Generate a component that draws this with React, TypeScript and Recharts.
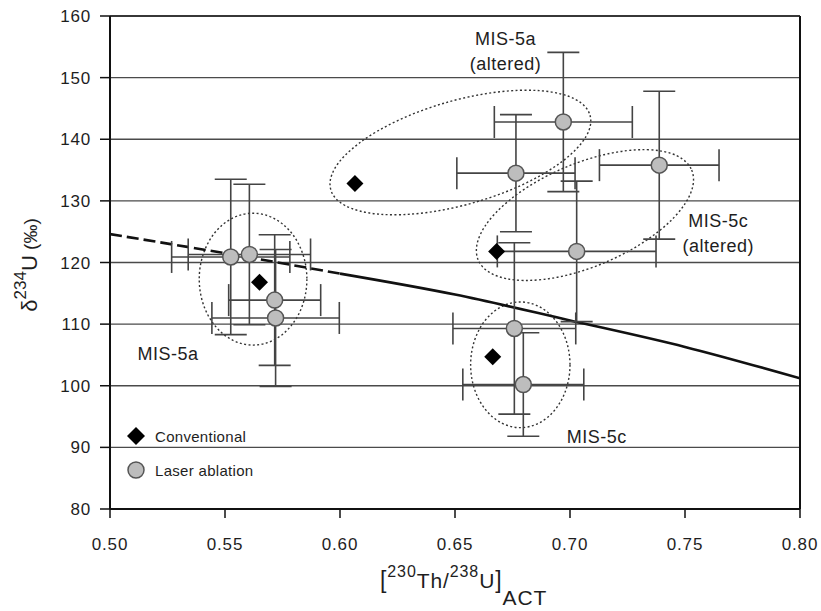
import React from "react";
import {
  ComposedChart,
  CartesianGrid,
  ErrorBar,
  Legend,
  Line,
  ReferenceArea,
  ReferenceDot,
  ReferenceLine,
  Scatter,
  XAxis,
  YAxis,
} from "recharts";

const FONT = '"Liberation Sans", Arial, Helvetica, sans-serif';
const INK = "#1e1e1e";

// axis ticks
const xTicks = [0.5, 0.55, 0.6, 0.65, 0.7, 0.75, 0.8];
const yTicks = [80, 90, 100, 110, 120, 130, 140, 150, 160];

// conventional (black diamonds)
const conventionalX = [0.565, 0.6065, 0.6681, 0.6664];
const conventionalY = [116.8, 132.8, 121.8, 104.7];

// laser ablation (grey circles) with 2-sigma errors
const laserX = [0.5525, 0.5606, 0.5716, 0.572, 0.6971, 0.6765, 0.7388, 0.7029, 0.6758, 0.6797];
const laserY = [120.9, 121.3, 113.9, 111.0, 142.8, 134.5, 135.8, 121.8, 109.3, 100.2];
const laserXErr = [0.0257, 0.0266, 0.02, 0.0277, 0.03, 0.0257, 0.026, 0.0345, 0.0267, 0.0263];
const laserYErr = [12.6, 11.4, 10.6, 11.1, 11.3, 9.5, 12.0, 11.4, 13.9, 8.4];

// closed-system evolution curve
const curveX = [0.5, 0.55, 0.6, 0.65, 0.7, 0.75, 0.8];
const curveY = [124.6, 121.5, 118.2, 114.8, 110.6, 106.3, 101.2];

const conventional = conventionalX.map((x, i) => ({ x, y: conventionalY[i] }));
const laser = laserX.map((x, i) => ({ x, y: laserY[i], ex: laserXErr[i], ey: laserYErr[i] }));
const curve = curveX.map((x, i) => ({ x, y: curveY[i] }));
const curveDashed = curve.filter((p) => p.x <= 0.6);
const curveSolid = curve.filter((p) => p.x >= 0.6);

// grouping ellipses: box in data units; tilted ones use the box diagonal as major axis
const groups = [
  { name: "MIS-5a", x1: 0.5388, x2: 0.5856, y1: 106.6, y2: 128.0, tilted: false, ratio: 1 },
  { name: "MIS-5c", x1: 0.6568, x2: 0.7, y1: 93.2, y2: 113.6, tilted: false, ratio: 1 },
  { name: "MIS-5a altered", x1: 0.596, x2: 0.7087, y1: 131.8, y2: 143.9, tilted: true, ratio: 0.385 },
  { name: "MIS-5c altered", x1: 0.6601, x2: 0.7529, y1: 120.4, y2: 135.0, tilted: true, ratio: 0.445 },
];

function ellipseShape(tilted: boolean, ratio: number) {
  return (props: any) => {
    const w = Math.abs(props.width);
    const h = Math.abs(props.height);
    const x = Math.min(props.x, props.x + props.width);
    const y = Math.min(props.y, props.y + props.height);
    const cx = x + w / 2;
    const cy = y + h / 2;
    const style = { fill: "none", stroke: "#333", strokeWidth: 1.4, strokeDasharray: "2 2.4" };
    if (!tilted) return <ellipse cx={cx} cy={cy} rx={w / 2} ry={h / 2} {...style} />;
    const a = Math.hypot(w, h) / 2;
    const angle = (-Math.atan2(h, w) * 180) / Math.PI;
    return (
      <ellipse
        cx={cx}
        cy={cy}
        rx={a}
        ry={a * ratio}
        transform={`rotate(${angle} ${cx} ${cy})`}
        {...style}
      />
    );
  };
}

const circleShape = (p: any) => (
  <circle cx={p.cx} cy={p.cy} r={8} fill="#bdbdbd" stroke="#555" strokeWidth={1.5} />
);

const diamondShape = (p: any) => {
  const d = 8.5;
  return (
    <polygon
      points={`${p.cx},${p.cy - d} ${p.cx + d},${p.cy} ${p.cx},${p.cy + d} ${p.cx - d},${p.cy}`}
      fill="#000"
    />
  );
};

function textShape(lines: string[]) {
  return (p: any) => (
    <text x={p.cx} y={p.cy} textAnchor="middle" fill={INK} fontSize={18} fontFamily={FONT} letterSpacing={0.5}>
      {lines.map((t, i) => (
        <tspan key={t} x={p.cx} dy={i === 0 ? 0 : 25}>
          {t}
        </tspan>
      ))}
    </text>
  );
}

function XLabel() {
  return (
    <text x={380} y={588} fill={INK} fontFamily={FONT} fontSize={21} letterSpacing={0.9}>
      <tspan fontSize={23}>[</tspan>
      <tspan dy={-11} fontSize={16}>230</tspan>
      <tspan dy={11}>Th/</tspan>
      <tspan dy={-11} fontSize={16}>238</tspan>
      <tspan dy={11}>U</tspan>
      <tspan fontSize={23}>]</tspan>
      <tspan dy={17}>ACT</tspan>
    </text>
  );
}

function YLabel() {
  return (
    <text
      x={37}
      y={265}
      transform="rotate(-90 37 265)"
      textAnchor="middle"
      fill={INK}
      fontFamily={FONT}
      fontSize={22}
    >
      <tspan>δ</tspan>
      <tspan dy={-11} fontSize={17}>234</tspan>
      <tspan dy={11}>U</tspan>
      <tspan fontSize={19}> (‰)</tspan>
    </text>
  );
}

function LegendBox() {
  const row = { display: "flex", alignItems: "center", height: 24, gap: 9 } as const;
  return (
    <div style={{ fontFamily: FONT, fontSize: 15, color: INK, letterSpacing: 0.3 }}>
      <div style={row}>
        <svg width={20} height={20}>
          <polygon points="10,1 19,10 10,19 1,10" fill="#000" />
        </svg>
        <span>Conventional</span>
      </div>
      <div style={{ ...row, marginTop: 10 }}>
        <svg width={20} height={20}>
          <circle cx={10} cy={10} r={8} fill="#bdbdbd" stroke="#555" strokeWidth={1.5} />
        </svg>
        <span>Laser ablation</span>
      </div>
    </div>
  );
}

export default function App() {
  return (
    <div style={{ position: "absolute", left: 0, top: 0, width: 821, height: 611, background: "#fff" }}>
      <ComposedChart width={821} height={611} margin={{ top: 16, right: 21, bottom: 0, left: 0 }}>
        <CartesianGrid vertical={false} stroke="#4a4a4a" strokeWidth={1.3} />
        <XAxis
          type="number"
          dataKey="x"
          domain={[0.5, 0.8]}
          ticks={xTicks}
          allowDataOverflow
          height={102}
          tickFormatter={(v) => Number(v).toFixed(2)}
          tick={{ fill: INK, fontSize: 17, fontFamily: FONT, letterSpacing: 0.8 }}
          tickSize={9}
          tickMargin={20}
          axisLine={{ stroke: "#111", strokeWidth: 2 }}
          tickLine={{ stroke: "#111", strokeWidth: 1.5 }}
          label={{ content: () => <XLabel /> }}
        />
        <YAxis
          type="number"
          dataKey="y"
          domain={[80, 160]}
          ticks={yTicks}
          allowDataOverflow
          width={110}
          tick={{ fill: INK, fontSize: 17, fontFamily: FONT, letterSpacing: 0.8 }}
          tickSize={10}
          tickMargin={9}
          axisLine={{ stroke: "#111", strokeWidth: 2 }}
          tickLine={{ stroke: "#111", strokeWidth: 1.5 }}
          label={{ content: () => <YLabel /> }}
        />
        <ReferenceLine x={0.8} stroke="#111" strokeWidth={2} />
        <ReferenceLine y={160} stroke="#222" strokeWidth={1.5} />

        {groups.map((g) => (
          <ReferenceArea
            key={g.name}
            x1={g.x1}
            x2={g.x2}
            y1={g.y1}
            y2={g.y2}
            shape={ellipseShape(g.tilted, g.ratio)}
          />
        ))}

        <Line
          data={curveDashed}
          dataKey="y"
          type="monotone"
          stroke="#111"
          strokeWidth={2.6}
          strokeDasharray="12 5"
          dot={false}
          activeDot={false}
          isAnimationActive={false}
        />
        <Line
          data={curveSolid}
          dataKey="y"
          type="monotone"
          stroke="#111"
          strokeWidth={2.6}
          dot={false}
          activeDot={false}
          isAnimationActive={false}
        />

        <Scatter name="Laser ablation" data={laser} shape={circleShape} isAnimationActive={false}>
          <ErrorBar dataKey="ex" direction="x" width={16} stroke="#444" strokeWidth={1.6} isAnimationActive={false} />
          <ErrorBar dataKey="ey" direction="y" width={16} stroke="#444" strokeWidth={1.6} isAnimationActive={false} />
        </Scatter>
        <Scatter name="Conventional" data={conventional} shape={diamondShape} isAnimationActive={false} />

        <ReferenceDot x={0.672} y={155.3} r={0} shape={textShape(["MIS-5a", "(altered)"])} />
        <ReferenceDot x={0.7645} y={125.84} r={0} shape={textShape(["MIS-5c", "(altered)"])} />
        <ReferenceDot x={0.5252} y={104.2} r={0} shape={textShape(["MIS-5a"])} />
        <ReferenceDot x={0.7116} y={90.68} r={0} shape={textShape(["MIS-5c"])} />

        <Legend
          layout="vertical"
          align="center"
          verticalAlign="middle"
          content={() => <LegendBox />}
          wrapperStyle={{ position: "absolute", left: 126, top: 424, width: 200, height: 60 }}
        />
      </ComposedChart>
    </div>
  );
}
